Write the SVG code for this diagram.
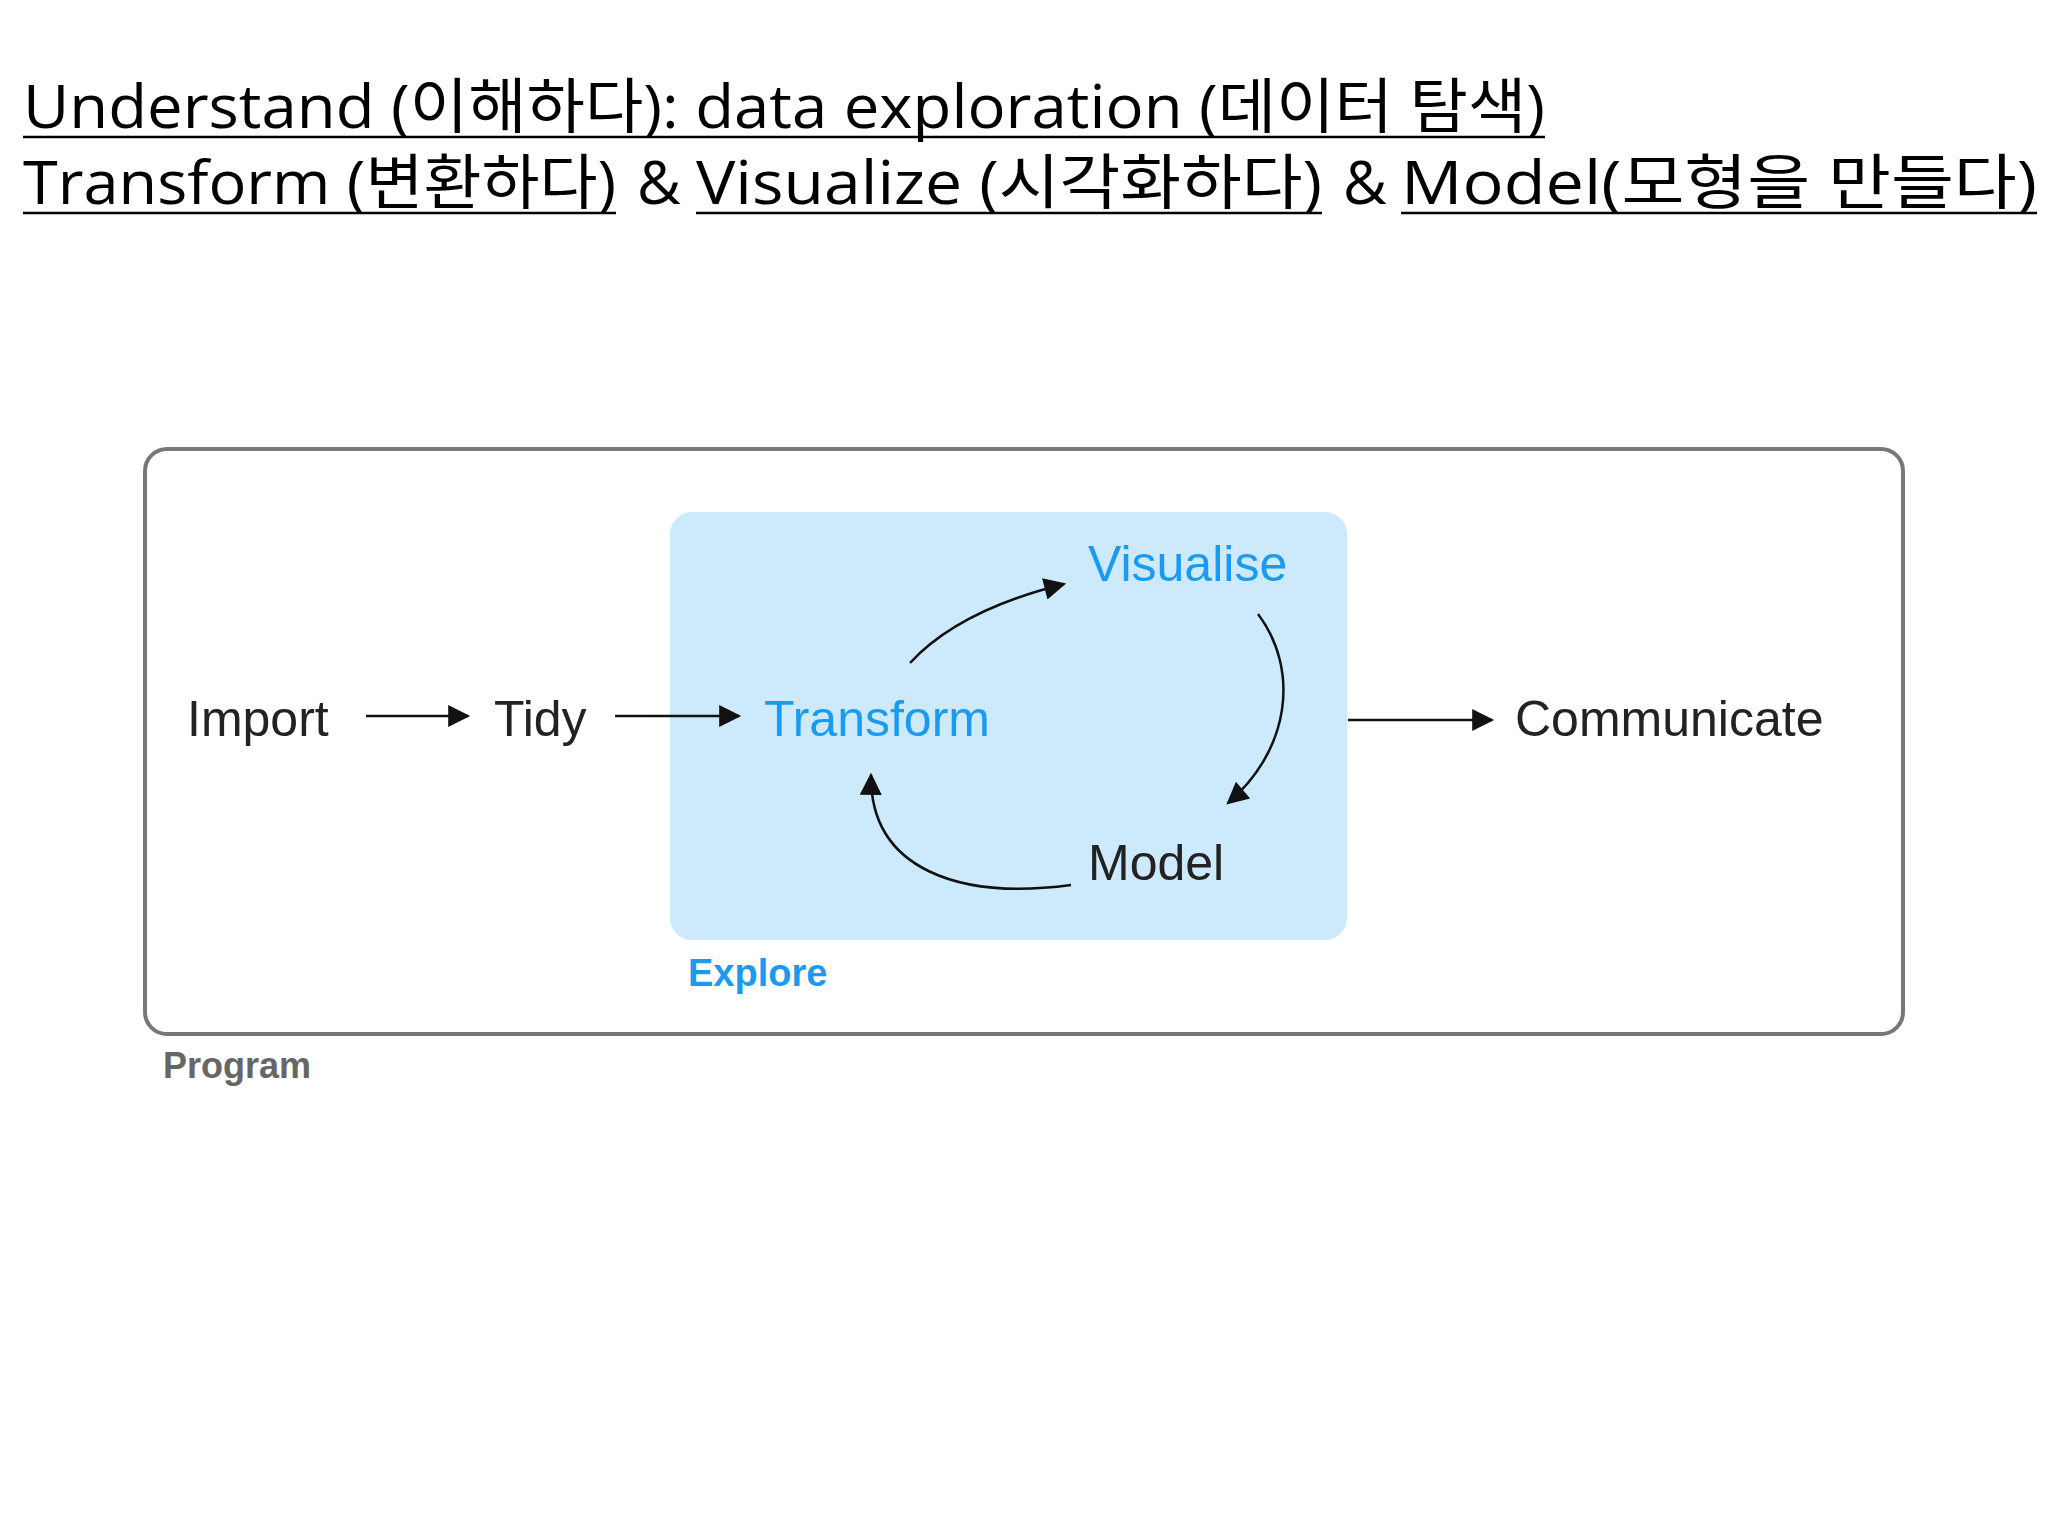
<svg xmlns="http://www.w3.org/2000/svg" width="2048" height="1536" viewBox="0 0 2048 1536">
<style>
.t{font-family:"Open Sans","Noto Sans CJK KR",sans-serif;font-size:60px;fill:#000}
.ul{stroke:#000;stroke-width:2.5}
.n{font-family:"Liberation Sans",Arial,sans-serif;font-size:50px;fill:#222}
.b{fill:#1a9af0}
.c{fill:none;stroke:#111;stroke-width:2.5}
</style>
<defs><marker id="a" viewBox="0 0 10 10" refX="9" refY="5" markerWidth="9" markerHeight="9" markerUnits="userSpaceOnUse" orient="auto"><path d="M0,0L10,5L0,10z" fill="#111"/></marker>
<marker id="ah" viewBox="0 0 10 10" refX="9" refY="5" markerWidth="28" markerHeight="22" markerUnits="userSpaceOnUse" orient="auto"><path d="M0,0L10,5L0,10z" fill="#111"/></marker></defs>
<rect width="2048" height="1536" fill="#fff"/>
<g id="title">
<text class="t" x="23" y="128" textLength="1522" lengthAdjust="spacingAndGlyphs">Understand (이해하다): data exploration (데이터 탐색)</text>
<line class="ul" x1="23" y1="137" x2="1545" y2="137"/>
<text class="t" x="23" y="204" textLength="593" lengthAdjust="spacingAndGlyphs">Transform (변환하다)</text>
<text class="t" x="637" y="204">&amp;</text>
<text class="t" x="696" y="204" textLength="626" lengthAdjust="spacingAndGlyphs">Visualize (시각화하다)</text>
<text class="t" x="1343" y="204">&amp;</text>
<text class="t" x="1401" y="204" textLength="636" lengthAdjust="spacingAndGlyphs">Model(모형을 만들다)</text>
<line class="ul" x1="23" y1="213" x2="616" y2="213"/>
<line class="ul" x1="696" y1="213" x2="1322" y2="213"/>
<line class="ul" x1="1401" y1="213" x2="2037" y2="213"/>
</g>
<g id="program"><rect x="145" y="449" width="1758" height="585" rx="22" fill="none" stroke="#777" stroke-width="4"/>
<text x="163" y="1078" font-family="Liberation Sans,Arial,sans-serif" font-weight="bold" font-size="36" fill="#666">Program</text></g>
<g id="explore"><rect x="670" y="512" width="677" height="428" rx="22" fill="#cde9fc"/>
<text x="688" y="986" font-family="Liberation Sans,Arial,sans-serif" font-weight="bold" font-size="38" class="b">Explore</text></g>
<g id="import"><text class="n" x="187" y="736">Import</text></g>
<g id="tidy"><text class="n" x="494" y="736">Tidy</text></g>
<g id="transform"><text class="n b" x="764" y="736">Transform</text></g>
<g id="visualise"><text class="n b" x="1088" y="581">Visualise</text></g>
<g id="model"><text class="n" x="1088" y="880">Model</text></g>
<g id="communicate"><text class="n" x="1515" y="736">Communicate</text></g>
<g id="connectors">
<line class="c" x1="366" y1="716" x2="468" y2="716" marker-end="url(#ah)"/>
<line class="c" x1="615" y1="716" x2="739" y2="716" marker-end="url(#ah)"/>
<line class="c" x1="1348" y1="720" x2="1492" y2="720" marker-end="url(#ah)"/>
<path class="c" d="M910,663 C945,625 1000,600 1064,584" marker-end="url(#ah)"/>
<path class="c" d="M1258,614 C1300,670 1290,750 1228,803" marker-end="url(#ah)"/>
<path class="c" d="M1071,885 C960,900 870,870 871,775" marker-end="url(#ah)"/>
</g>
</svg>
